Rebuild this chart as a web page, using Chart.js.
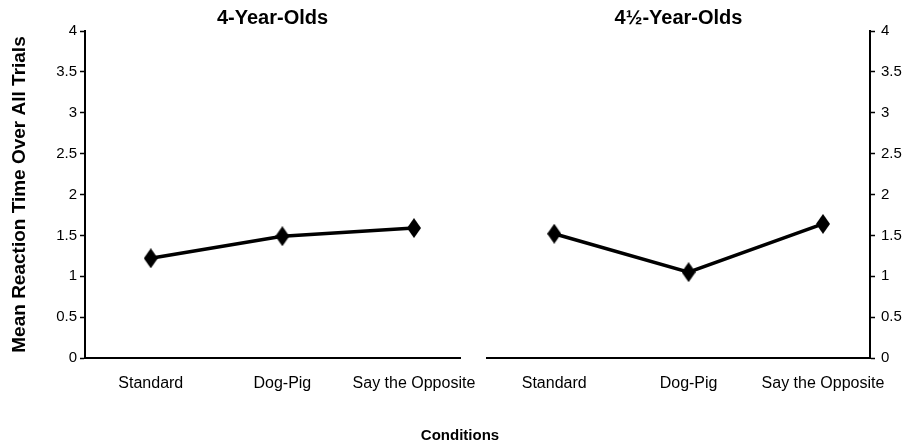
<!DOCTYPE html>
<html>
<head>
<meta charset="utf-8">
<script src="https://cdn.jsdelivr.net/npm/chart.js@4.4.0/dist/chart.umd.min.js"></script>
<style>
  body { margin: 0; background: #fff; }
  #wrap { position: relative; width: 904px; height: 446px; font-family: "Liberation Sans", Arial, sans-serif; }
  canvas { position: absolute; top: 0; }
  #leftChart { left: 0; }
  #rightChart { left: 480px; }
  #xTitle { position: absolute; left: 460px; top: 426px; transform: translateX(-50%); font-weight: bold; font-size: 15px; color: #000; white-space: nowrap; }
</style>
</head>
<body>
<div id="wrap">
  <canvas id="leftChart" width="480" height="446"></canvas>
  <canvas id="rightChart" width="424" height="446"></canvas>
  <div id="xTitle"></div>
</div>
<script>
// Reaction times per condition, two age groups
const conditions = ["Standard", "Dog-Pig", "Say the Opposite"];
const panelTitles = ["4-Year-Olds", "4½-Year-Olds"];
const fourYearRT = [1.22, 1.49, 1.59];
const fourHalfYearRT = [1.52, 1.05, 1.64];
const yTicks = [0, 0.5, 1, 1.5, 2, 2.5, 3, 3.5, 4];
const yTitle = "Mean Reaction Time Over All Trials";
const xTitle = "Conditions";

Chart.defaults.font.family = "'Liberation Sans', Arial, sans-serif";
Chart.defaults.color = "#000";

document.getElementById("xTitle").textContent = xTitle;

// taller-than-wide diamond marker
function diamond(w, h) {
  const c = document.createElement("canvas");
  c.width = w; c.height = h;
  const g = c.getContext("2d");
  g.fillStyle = "#000";
  g.beginPath();
  g.moveTo(w / 2, 0);
  g.lineTo(w, h / 2);
  g.lineTo(w / 2, h);
  g.lineTo(0, h / 2);
  g.closePath();
  g.fill();
  return c;
}
const marker = diamond(14, 20);

function makePanel(id, title, values, side) {
  const isLeft = side === "left";
  return new Chart(document.getElementById(id), {
    type: "line",
    data: {
      datasets: [{
        data: values.map((v, i) => ({ x: i, y: v })),
        borderColor: "#000",
        borderWidth: 3.5,
        pointStyle: marker,
        pointRadius: 8,
        tension: 0
      }]
    },
    options: {
      responsive: false,
      animation: false,
      layout: {
        autoPadding: false,
        padding: isLeft ? { left: 0, right: 20, top: 0, bottom: 0 } : { left: 7, right: 0, top: 0, bottom: 0 }
      },
      plugins: {
        legend: { display: false },
        tooltip: { enabled: false },
        title: {
          display: true,
          text: title,
          fullSize: false,
          color: "#000",
          font: { size: 20, weight: "bold" },
          padding: { top: 6, bottom: 1 }
        }
      },
      scales: {
        x: {
          type: "linear",
          min: -0.5,
          max: 2.35,
          afterBuildTicks: s => { s.ticks = conditions.map((c, i) => ({ value: i })); },
          ticks: {
            callback: v => conditions[v],
            autoSkip: false,
            maxRotation: 0,
            color: "#000",
            font: { size: 16 },
            padding: 16
          },
          grid: { display: true, drawOnChartArea: false, drawTicks: false },
          border: { color: "#000", width: 2 },
          afterFit: s => { s.height = 88; s.paddingLeft = 0; s.paddingRight = 0; }
        },
        y: {
          position: isLeft ? "left" : "right",
          min: 0,
          max: 4,
          afterBuildTicks: s => { s.ticks = yTicks.map(v => ({ value: v })); },
          ticks: { callback: v => String(v), color: "#000", font: { size: 15 }, padding: isLeft ? 3 : 6 },
          grid: { drawOnChartArea: false, drawTicks: true, tickLength: 5, tickColor: "#000", tickWidth: 1.5 },
          border: { color: "#000", width: 2 },
          title: isLeft
            ? { display: true, text: yTitle, color: "#000", font: { size: 19, weight: "bold" }, padding: { top: 8, bottom: 0 } }
            : { display: false },
          afterFit: s => { s.width = isLeft ? 85 : 34; }
        }
      }
    }
  });
}

makePanel("leftChart", panelTitles[0], fourYearRT, "left");
makePanel("rightChart", panelTitles[1], fourHalfYearRT, "right");
</script>
</body>
</html>
